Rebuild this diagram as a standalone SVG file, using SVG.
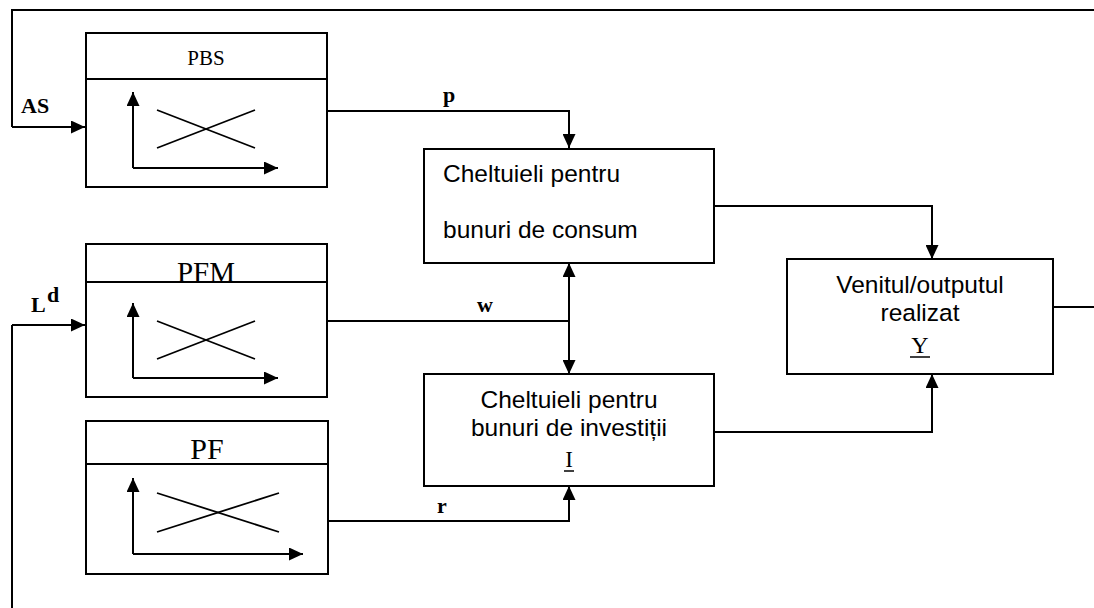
<svg xmlns="http://www.w3.org/2000/svg" width="1094" height="608" viewBox="0 0 1094 608">
  <style>
    .box { fill: #ffffff; stroke: #000; stroke-width: 2; }
    .ln { fill: none; stroke: #000; stroke-width: 2; }
    .thin { fill: none; stroke: #000; stroke-width: 1.8; }
    .ax { fill: none; stroke: #000; stroke-width: 2; marker-end: url(#ah); }
    .arr { fill: none; stroke: #000; stroke-width: 2; marker-end: url(#ah); }
    .serif { font-family: "Liberation Serif", "Times New Roman", serif; fill: #000; }
    .sans { font-family: "Liberation Sans", Arial, sans-serif; fill: #000; font-size: 24.5px; }
    .lbl { font-family: "Liberation Serif", "Times New Roman", serif; font-weight: bold; font-size: 22px; fill: #000; }
  </style>
  <defs>
    <marker id="ah" viewBox="0 0 14 13" refX="14" refY="6.5" markerWidth="14" markerHeight="13" markerUnits="userSpaceOnUse" orient="auto-start-reverse">
      <path d="M0,0 L14,6.5 L0,13 Z" fill="#000"/>
    </marker>
  </defs>
  <rect width="1094" height="608" fill="#ffffff"/>

  <!-- market blocks with small supply/demand charts -->
  <g id="pbs">
    <rect class="box" x="86" y="33" width="241" height="154"/>
    <line class="ln" x1="86" y1="79" x2="327" y2="79"/>
    <text class="serif" x="206" y="65" font-size="21" text-anchor="middle">PBS</text>
    <path class="ax" d="M133,168 V92"/>
    <path class="ax" d="M133,168 H278"/>
    <line class="thin" x1="157" y1="110" x2="255" y2="148"/>
    <line class="thin" x1="157" y1="148" x2="255" y2="110"/>
  </g>

  <g id="pfm">
    <rect class="box" x="86" y="244" width="241" height="153"/>
    <line class="ln" x1="86" y1="282" x2="327" y2="282"/>
    <text class="serif" x="206" y="282" font-size="29" text-anchor="middle">PFM</text>
    <path class="ax" d="M133,378 V303"/>
    <path class="ax" d="M133,378 H278"/>
    <line class="thin" x1="157" y1="321" x2="255" y2="359"/>
    <line class="thin" x1="157" y1="359" x2="255" y2="321"/>
  </g>

  <g id="pf">
    <rect class="box" x="86" y="421" width="242" height="153"/>
    <line class="ln" x1="86" y1="464" x2="328" y2="464"/>
    <text class="serif" x="207" y="459" font-size="30" text-anchor="middle">PF</text>
    <path class="ax" d="M133,554 V478"/>
    <path class="ax" d="M133,554 H303"/>
    <line class="thin" x1="157" y1="493" x2="279" y2="532"/>
    <line class="thin" x1="157" y1="532" x2="279" y2="493"/>
  </g>

  <!-- spending blocks -->
  <g id="consum">
    <rect class="box" x="424" y="149" width="290" height="114"/>
    <text class="sans" x="443" y="182">Cheltuieli pentru</text>
    <text class="sans" x="443" y="238">bunuri de consum</text>
  </g>

  <g id="investitii">
    <rect class="box" x="424" y="374" width="290" height="112"/>
    <text class="sans" x="569" y="408" text-anchor="middle">Cheltuieli pentru</text>
    <text class="sans" x="569" y="436" text-anchor="middle">bunuri de investiții</text>
    <text class="serif" x="569" y="467" font-size="23" text-anchor="middle">I</text>
    <line x1="564" y1="471" x2="574" y2="471" stroke="#000" stroke-width="1.5"/>
  </g>

  <!-- output block -->
  <g id="venit">
    <rect class="box" x="787" y="259" width="266" height="115"/>
    <text class="sans" x="920" y="293" text-anchor="middle">Venitul/outputul</text>
    <text class="sans" x="920" y="321" text-anchor="middle">realizat</text>
    <text class="serif" x="920" y="353" font-size="24" text-anchor="middle">Y</text>
    <line x1="910" y1="357" x2="930" y2="357" stroke="#000" stroke-width="1.5"/>
  </g>

  <!-- connectors -->
  <g id="connectors">
    <!-- feedback loop into PBS -->
    <path class="ln" d="M1094,10 H12 V127"/>
    <path class="arr" d="M12,127 H85"/>
    <!-- labour demand into PFM -->
    <path class="ln" d="M12,608 V325"/>
    <path class="arr" d="M12,325 H85"/>
    <!-- p -->
    <path class="arr" d="M327,111 H569 V148"/>
    <!-- w, to both spending blocks -->
    <path class="ln" d="M327,321 H569"/>
    <path class="ln" d="M569,263 V374" marker-start="url(#ah)" marker-end="url(#ah)"/>
    <!-- r -->
    <path class="arr" d="M328,521 H569 V486"/>
    <!-- spending into output -->
    <path class="arr" d="M714,206 H932 V259"/>
    <path class="arr" d="M714,432 H932 V374"/>
    <!-- output leaving to the right -->
    <path class="ln" d="M1053,307 H1094"/>
  </g>

  <!-- connector labels -->
  <g id="labels">
    <text class="lbl" x="21" y="113">AS</text>
    <text class="lbl" x="31" y="312" font-size="21">L</text>
    <text class="lbl" x="47" y="302" font-size="12">d</text>
    <text class="lbl" x="449" y="102" text-anchor="middle">p</text>
    <text class="lbl" x="485" y="312" text-anchor="middle">w</text>
    <text class="lbl" x="442" y="513" text-anchor="middle">r</text>
  </g>
</svg>
